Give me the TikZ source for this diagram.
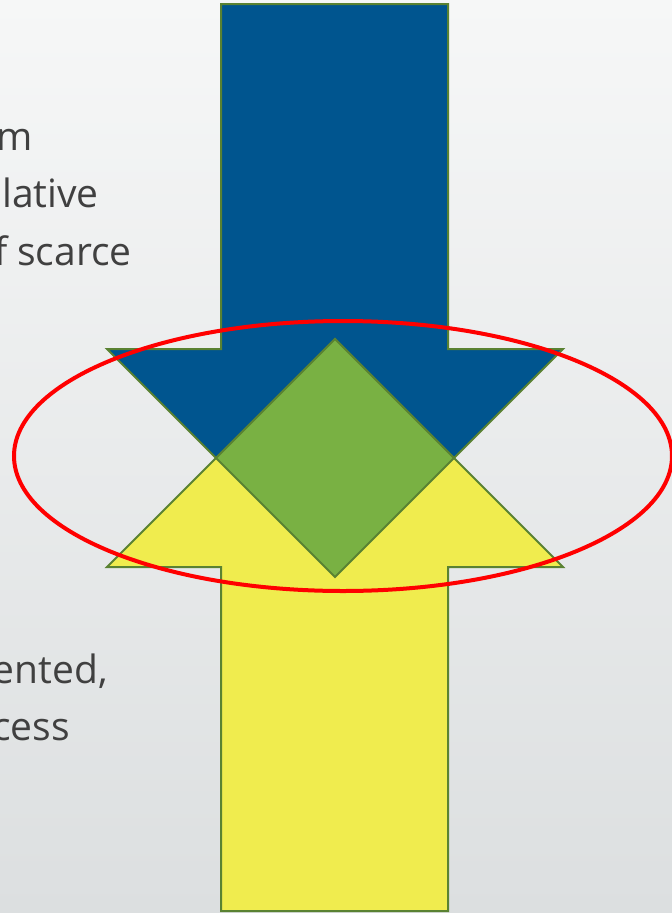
\documentclass[tikz,border=0pt]{standalone}
\usepackage{fontspec}
\setmainfont{Open Sans}
\definecolor{bluearr}{HTML}{00558F}
\definecolor{yelarr}{HTML}{F0EC4E}
\definecolor{greendia}{HTML}{79B143}
\definecolor{edgegreen}{HTML}{5A8232}
\definecolor{txtgray}{HTML}{404040}
\definecolor{bgtop}{HTML}{F6F7F7}
\definecolor{bgbot}{HTML}{DCDFE0}
\tikzset{
  shape outline/.style={draw=edgegreen, line width=2pt, line join=miter},
  sidetext/.style={anchor=base east, inner sep=0pt, text=txtgray, font=\fontsize{39}{47}\selectfont},
}
\begin{document}
\begin{tikzpicture}[x=1pt,y=-1pt]
\useasboundingbox (0,0) rectangle (672,913);
\clip (0,0) rectangle (672,913);
\shade[top color=bgtop, bottom color=bgbot] (0,0) rectangle (672,913);
% text fragments
\node[sidetext] (t1) at (33,150) {m};
\node[sidetext] (t2) at (99,207) {lative};
\node[sidetext] (t3) at (132,265) {f scarce};
\node[sidetext] (t4) at (108,683) {ented,};
\node[sidetext] (t5) at (70,740) {cess};
% blue arrow pointing down
\draw[shape outline, fill=bluearr] (221,4) -- (448,4) -- (448,349) -- (563,349) -- (335,577) -- (107,349) -- (221,349) -- cycle;
% yellow arrow pointing up
\draw[shape outline, fill=yelarr] (221,911) -- (448,911) -- (448,567) -- (563,567) -- (335,339) -- (107,567) -- (221,567) -- cycle;
% green diamond (overlap)
\draw[shape outline, fill=greendia] (335,339) -- (454,458) -- (335,577) -- (216,458) -- cycle;
% red ellipse
\draw[red, line width=4pt] (343,456) ellipse [x radius=329, y radius=135];
\end{tikzpicture}
\end{document}
